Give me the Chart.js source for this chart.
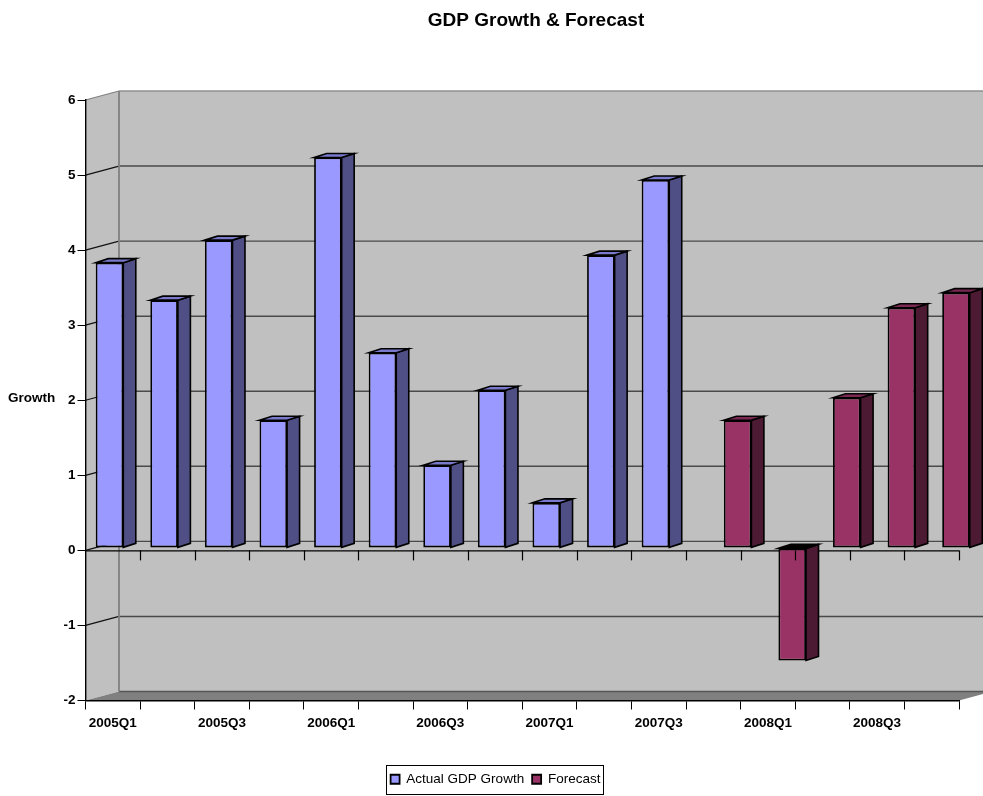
<!DOCTYPE html>
<html>
<head>
<meta charset="utf-8">
<title>GDP Growth & Forecast</title>
<script src="https://cdn.jsdelivr.net/npm/chart.js@4"></script>
<style>
    html, body { margin: 0; padding: 0; background: #fff; overflow: hidden; }
    canvas { display: block; }
</style>
</head>
<body>
<canvas id="chart" width="983" height="796"></canvas>
<script>
const categories = ['2005Q1', '2005Q2', '2005Q3', '2005Q4', '2006Q1', '2006Q2', '2006Q3', '2006Q4',
    '2007Q1', '2007Q2', '2007Q3', '2007Q4', '2008Q1', '2008Q2', '2008Q3', '2008Q4'];
const actualGrowth = [3.8, 3.3, 4.1, 1.7, 5.2, 2.6, 1.1, 2.1, 0.6, 3.9, 4.9, null, null, null, null, null];
const forecastGrowth = [null, null, null, null, null, null, null, null, null, null, null, 1.7, -1.5, 2.0, 3.2, 3.4];
const yTicks = [-2, -1, 0, 1, 2, 3, 4, 5, 6];
const titleText = 'GDP Growth & Forecast';
const yAxisText = 'Growth';

const FONT = '"Liberation Sans", Arial, sans-serif';
// fake 3D: how far the back wall sits from the front plane, and the bars inside that depth
const WALL = { x: 33.5, y: -9 };
const BAR_PLANE = { x: 10.5, y: -2.5 };
const BAR_DEPTH = { x: 12.5, y: -4 };

function poly(ctx, pts, fill, stroke, width) {
    ctx.beginPath();
    pts.forEach((p, i) => i ? ctx.lineTo(p[0], p[1]) : ctx.moveTo(p[0], p[1]));
    ctx.closePath();
    if (fill) { ctx.fillStyle = fill; ctx.fill(); }
    if (stroke) { ctx.strokeStyle = stroke; ctx.lineWidth = width; ctx.stroke(); }
}

function line(ctx, x1, y1, x2, y2, color, width) {
    ctx.beginPath();
    ctx.moveTo(x1, y1);
    ctx.lineTo(x2, y2);
    ctx.strokeStyle = color;
    ctx.lineWidth = width;
    ctx.stroke();
}

const threeD = {
    id: 'threeD',
    afterLayout(chart) {
        // title and legend are not centred on the canvas in the original
        chart.titleBlock.left = 89;
        chart.titleBlock.right = 983;
        chart.legend.left = 32;
        chart.legend.right = 959;
    },
    beforeDraw(chart) {
        const { ctx, chartArea: a, scales: { y } } = chart;
        const bx = a.left + WALL.x, by = a.top + WALL.y, bb = a.bottom + WALL.y, br = a.right + WALL.x;
        ctx.save();
        // side wall and back wall
        poly(ctx, [[a.left, a.top], [bx, by], [bx, bb], [a.left, a.bottom]], '#c0c0c0');
        poly(ctx, [[bx, by], [br, by], [br, bb], [bx, bb]], '#c0c0c0');
        // floor
        poly(ctx, [[a.left, a.bottom], [bx, bb], [br, bb], [a.right, a.bottom]], '#808080');
        line(ctx, bx, bb, br, bb, '#555555', 1.5);
        // gridlines
        y.ticks.forEach(t => {
            const py = y.getPixelForValue(t.value);
            if (t.value === y.min) return;
            const edge = t.value === y.max;
            if (!edge) line(ctx, bx, py + WALL.y, br, py + WALL.y, '#4a4a4a', 1.4);
            line(ctx, a.left, py, bx, py + WALL.y, edge ? '#808080' : '#111111', 1.2);
        });
        line(ctx, bx, by, br, by, '#909090', 1.5);
        line(ctx, bx, by, bx, bb, '#808080', 1.8);
        ctx.restore();
    },
    beforeDatasetsDraw(chart) {
        const { ctx, chartArea: a, scales: { y } } = chart;
        ctx.save();
        line(ctx, a.left, y.getPixelForValue(0) + 0.5, a.right, y.getPixelForValue(0) + 0.5, '#000', 1.2);
        ctx.restore();
    },
    beforeDatasetDraw(chart, args) {
        const { ctx } = chart;
        const ds = chart.data.datasets[args.index];
        ctx.save();
        ctx.translate(BAR_PLANE.x, BAR_PLANE.y);
        ctx.lineJoin = 'miter';
        args.meta.data.forEach((el, i) => {
            if (ds.data[i] === null) return;
            const p = el.getProps(['x', 'y', 'base', 'width'], true);
            const l = p.x - p.width / 2, r = p.x + p.width / 2;
            const top = Math.min(p.y, p.base), bot = Math.max(p.y, p.base);
            const dx = BAR_DEPTH.x, dy = BAR_DEPTH.y;
            poly(ctx, [[r, top], [r + dx, top + dy], [r + dx, bot + dy], [r, bot]], ds.sideColor, '#000', 1.6);
            poly(ctx, [[l, top], [l + dx, top + dy], [r + dx, top + dy], [r, top]],
                ds.data[i] < 0 ? '#000' : ds.topColor, '#000', 1.6);
        });
    },
    afterDatasetDraw(chart) {
        chart.ctx.restore();
    },
    afterDatasetsDraw(chart) {
        const { ctx, scales: { x, y } } = chart;
        const y0 = y.getPixelForValue(0);
        ctx.save();
        // tick marks on the zero line, they stay on top of the bars
        for (let i = 1; i <= categories.length; i++) {
            const px = Math.round((x.getPixelForValue(i - 1) + x.getPixelForValue(i - 1) + x.width / categories.length) / 2) + 0.5;
            line(ctx, px, y0, px, y0 + 10, '#000', 1.2);
        }
        ctx.restore();
    },
    afterDraw(chart) {
        const { ctx, chartArea: a } = chart;
        ctx.save();
        ctx.font = 'bold 13.5px ' + FONT;
        ctx.fillStyle = '#000';
        ctx.textAlign = 'left';
        ctx.textBaseline = 'middle';
        ctx.fillText(yAxisText, 8, (a.top + a.bottom) / 2 - 2);
        // legend frame
        ctx.strokeStyle = '#000';
        ctx.lineWidth = 1;
        ctx.strokeRect(386.5, 765.5, 217, 29);
        ctx.restore();
    }
};

new Chart(document.getElementById('chart'), {
    type: 'bar',
    plugins: [threeD],
    data: {
        labels: categories,
        datasets: [
            {
                label: 'Actual GDP Growth',
                data: actualGrowth,
                backgroundColor: '#9999ff',
                sideColor: '#4f4f85',
                topColor: '#7a7acc',
                borderColor: '#000',
                borderWidth: 1.8,
                borderSkipped: false,
                clip: false
            },
            {
                label: 'Forecast',
                data: forecastGrowth,
                backgroundColor: '#993366',
                sideColor: '#4d1a33',
                topColor: '#7a2952',
                borderColor: '#000',
                borderWidth: 1.8,
                borderSkipped: false,
                clip: false
            }
        ]
    },
    options: {
        responsive: false,
        animation: false,
        layout: { padding: { left: 0, right: 24, top: 0, bottom: 0 } },
        categoryPercentage: 1.01,
        barPercentage: 1,
        plugins: {
            title: {
                display: true,
                text: titleText,
                color: '#000',
                font: { family: FONT, size: 19, weight: 'bold' },
                padding: { top: 9, bottom: 68.2 }
            },
            legend: {
                position: 'bottom',
                labels: {
                    color: '#000',
                    font: { family: FONT, size: 13.5 },
                    boxWidth: 9,
                    boxHeight: 9,
                    padding: 8
                }
            },
            tooltip: { enabled: false }
        },
        scales: {
            x: {
                afterFit(scale) { scale.height = 64; },
                border: { color: '#000', width: 1.4 },
                grid: { drawOnChartArea: false, color: '#000', tickLength: 9 },
                ticks: {
                    color: '#000',
                    font: { family: FONT, size: 13.5, weight: 'bold' },
                    padding: 6,
                    autoSkip: false,
                    maxRotation: 0,
                    callback(value, index) {
                        return index % 2 === 0 ? categories[index] : '';
                    }
                }
            },
            y: {
                min: yTicks[0],
                max: yTicks[yTicks.length - 1],
                afterFit(scale) { scale.width = 85.5; },
                afterBuildTicks(scale) { scale.ticks = yTicks.map(value => ({ value })); },
                border: { color: '#000', width: 1.4 },
                grid: { drawOnChartArea: false, color: '#000', tickLength: 8 },
                ticks: {
                    color: '#000',
                    font: { family: FONT, size: 13.5, weight: 'bold' },
                    padding: 2
                }
            }
        }
    }
});
</script>
</body>
</html>
